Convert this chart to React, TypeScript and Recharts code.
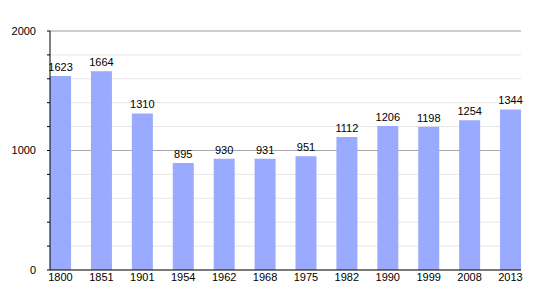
import { BarChart, Bar, XAxis, YAxis, CartesianGrid, LabelList } from "recharts";

const years = ["1800", "1851", "1901", "1954", "1962", "1968", "1975", "1982", "1990", "1999", "2008", "2013"];
const population = [1623, 1664, 1310, 895, 930, 931, 951, 1112, 1206, 1198, 1254, 1344];
const yTicks = [0, 200, 400, 600, 800, 1000, 1200, 1400, 1600, 1800, 2000];
const yLabels = [0, 1000, 2000];

const data = years.map((year, i) => ({ idx: i, year, value: population[i] }));

const font = { fontFamily: "'Liberation Sans', Arial, sans-serif", fontSize: 11, fill: "#000" };

export default function App() {
  return (
    <BarChart
      width={550}
      height={300}
      data={data}
      margin={{ top: 23, right: 37, bottom: 18, left: 0 }}
      style={{ fontFamily: "'Liberation Sans', Arial, sans-serif" }}
    >
      <CartesianGrid vertical={false} stroke="#e6e6e6" />
      <CartesianGrid vertical={false} horizontalValues={[1000, 2000]} stroke="#a8a8a8" />
      <XAxis
        dataKey="idx"
        type="number"
        domain={[-0.2567, 11.2567]}
        ticks={years.map((_, i) => i)}
        interval={0}
        tickFormatter={(i: number) => years[i]}
        tickLine={false}
        tickSize={0}
        tickMargin={3}
        height={20}
        axisLine={{ stroke: "#000" }}
        tick={font}
      />
      <YAxis
        width={42}
        domain={[0, 2000]}
        ticks={yTicks}
        interval={0}
        tickFormatter={(v: number) => (yLabels.includes(v) ? String(v) : "")}
        tickSize={3}
        tickMargin={11}
        tickLine={{ stroke: "#000" }}
        axisLine={{ stroke: "#000" }}
        tick={font}
      />
      <Bar dataKey="value" fill="#99aaff" barSize={21} isAnimationActive={false}>
        <LabelList dataKey="value" position="top" offset={5} style={font} />
      </Bar>
    </BarChart>
  );
}
